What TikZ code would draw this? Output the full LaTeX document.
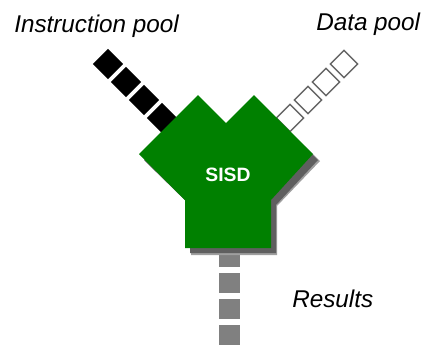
\documentclass[tikz,border=0pt]{standalone}
\usepackage{fontspec}
\setmainfont{Liberation Sans}
\usepackage{xcolor}
\usepackage{tikz}
\usetikzlibrary{positioning,calc}

\definecolor{sisdgreen}{RGB}{0,128,0}
\definecolor{shadowgray}{RGB}{95,95,95}
\definecolor{resgray}{RGB}{128,128,128}

\tikzset{
  insbox/.style={rectangle,fill=black,inner sep=0pt,minimum size=16pt,rotate=45},
  datbox/.style={rectangle,draw=black!60,line width=1pt,fill=white,inner sep=0pt,minimum size=14.5pt,rotate=45},
  resbox/.style={rectangle,fill=resgray,inner sep=0pt,minimum size=15.4pt},
  poollabel/.style={inner sep=0pt,font=\fontsize{18.2}{22}\selectfont\itshape}
}

\begin{document}
\begin{tikzpicture}[x=0.75pt,y=-0.75pt]
			\useasboundingbox (0,0) rectangle (432,344);
			
			% instruction stream (black)
			\foreach \i in {0,...,3} {
				\node[insbox] (ins\i) at ({162-18*\i},{118-18*\i}) {};
			}
			
			% data stream (white)
			\foreach \i in {0,...,3} {
				\node[datbox] (dat\i) at ({290+18*\i},{118-18*\i}) {};
			}
			
			% results (gray)
			\foreach \i in {0,...,3} {
				\node[resbox] (res\i) at (229.5,{257+26*\i}) {};
			}
			
			% shadow of the processor
			\fill[shadowgray!60] (145,161) -- (204,102) -- (232,130) -- (260,102) -- (320,161)
				-- (277,206) -- (277,255) -- (191,255) -- (191,206) -- cycle;
			\fill[shadowgray] (144,160) -- (203,101) -- (231,129) -- (259,101) -- (318,160)
				-- (276,205) -- (276,253) -- (190,253) -- (190,205) -- cycle;
			
			% processor
			\fill[sisdgreen] (139,154) -- (198,95) -- (226,123) -- (254,95) -- (313,154)
				-- (271,200) -- (271,248) -- (185,248) -- (185,200) -- cycle;
			\node[text=white,font=\fontsize{14.5}{17}\selectfont\bfseries] (sisd) at (228,175) {SISD};
			
			% labels
			\node[poollabel,anchor=base west] (inslabel) at (14,32) {Instruction pool};
			\node[poollabel,anchor=base west] (datlabel) at (316,30) {Data pool};
			\node[poollabel,anchor=base west] (reslabel) at (292,307) {Results};
		\end{tikzpicture}
\end{document}
